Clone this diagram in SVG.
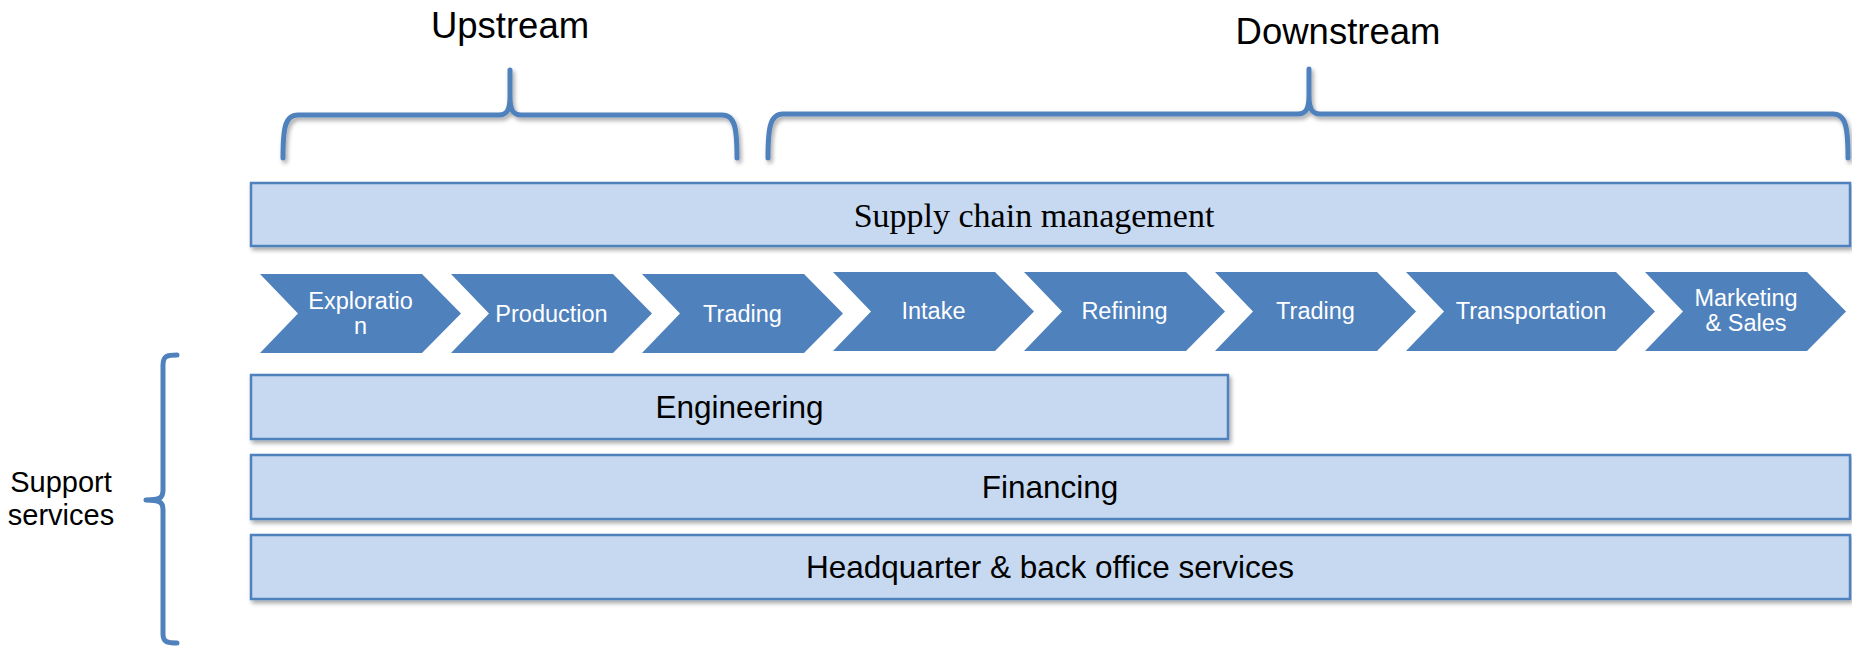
<svg xmlns="http://www.w3.org/2000/svg" width="1852" height="649" viewBox="0 0 1852 649">
<style>
.brace{fill:none;stroke:#4F81BD;stroke-width:5;stroke-linecap:round;stroke-linejoin:round}
.box{fill:#C6D9F1;stroke:#4F81BD;stroke-width:2.5}
.chev{fill:#4F81BD}
.ct{font-family:"Liberation Sans",Arial,sans-serif;font-size:23.5px;fill:#FFFFFF;text-anchor:middle}
.bt{font-family:"Liberation Sans",Arial,sans-serif;font-size:31.5px;fill:#000000;text-anchor:middle}
.hd{font-family:"Liberation Sans",Arial,sans-serif;font-size:36.5px;fill:#000000;text-anchor:middle}
.st{font-family:"Liberation Sans",Arial,sans-serif;font-size:29px;fill:#000000;text-anchor:middle}
.sc{font-family:"Liberation Serif","Times New Roman",serif;font-size:34px;fill:#000000;text-anchor:middle}
</style>
<defs>
<filter id="sh" x="-5%" y="-20%" width="110%" height="160%">
<feDropShadow dx="2" dy="3" stdDeviation="2" flood-color="#000000" flood-opacity="0.35"/>
</filter>
</defs>
<rect width="1852" height="649" fill="#FFFFFF"/>
<g id="connectors">
<path id="brace-upstream" class="brace" filter="url(#sh)" d="M283,158 C283,128 285,115 298,115 L499,115 C507,115 510,110 510,96 L510,70 M510,96 C510,110 513,115 521,115 L722,115 C735,115 737,128 737,158"/>
<path id="brace-downstream" class="brace" filter="url(#sh)" d="M768,158 C768,128 770,114 783,114 L1298,114 C1306,114 1309,109 1309,95 L1309,69 M1309,95 C1309,109 1312,114 1320,114 L1833,114 C1846,114 1848,128 1848,158"/>
<path id="brace-support" class="brace" d="M177,355 C167,355 163,356 163,365 L163,490 C163,498 160,500 146,500 M146,500 C160,500 163,502 163,510 L163,634 C163,642 167,643 177,643"/>
</g>
<g id="label-upstream"><text class="hd" x="510" y="38">Upstream</text></g>
<g id="label-downstream"><text class="hd" x="1338" y="44">Downstream</text></g>
<g id="label-support"><text class="st" x="61" y="492">Support</text><text class="st" x="61" y="525">services</text></g>
<g id="supply-chain"><rect class="box" filter="url(#sh)" x="251" y="183" width="1599" height="63"/><text class="sc" x="1034" y="227">Supply chain management</text></g>
<g id="chev-exploration"><polygon class="chev" points="260,274 422,274 461,313.5 422,353 260,353 298,313.5"/><text class="ct" x="360.5" y="309">Exploratio</text><text class="ct" x="360.5" y="334">n</text></g>
<g id="chev-production"><polygon class="chev" points="451,274 613,274 652,313.5 613,353 451,353 489,313.5"/><text class="ct" x="551.5" y="322">Production</text></g>
<g id="chev-trading1"><polygon class="chev" points="642,274 804,274 843,313.5 804,353 642,353 680,313.5"/><text class="ct" x="742.5" y="322">Trading</text></g>
<g id="chev-intake"><polygon class="chev" points="833,272 995,272 1034,311.5 995,351 833,351 871,311.5"/><text class="ct" x="933.5" y="319">Intake</text></g>
<g id="chev-refining"><polygon class="chev" points="1024,272 1186,272 1225,311.5 1186,351 1024,351 1062,311.5"/><text class="ct" x="1124.5" y="319">Refining</text></g>
<g id="chev-trading2"><polygon class="chev" points="1215,272 1377,272 1416,311.5 1377,351 1215,351 1253,311.5"/><text class="ct" x="1315.5" y="319">Trading</text></g>
<g id="chev-transportation"><polygon class="chev" points="1406,272 1616,272 1655,311.5 1616,351 1406,351 1444,311.5"/><text class="ct" x="1531" y="319">Transportation</text></g>
<g id="chev-marketing"><polygon class="chev" points="1645,272 1807,272 1846,311.5 1807,351 1645,351 1683,311.5"/><text class="ct" x="1746" y="306">Marketing</text><text class="ct" x="1746" y="331">&amp; Sales</text></g>
<g id="engineering"><rect class="box" filter="url(#sh)" x="251" y="375" width="977" height="64"/><text class="bt" x="739.5" y="418">Engineering</text></g>
<g id="financing"><rect class="box" filter="url(#sh)" x="251" y="455" width="1599" height="64"/><text class="bt" x="1050" y="498">Financing</text></g>
<g id="headquarter"><rect class="box" filter="url(#sh)" x="251" y="535" width="1599" height="64"/><text class="bt" x="1050" y="578">Headquarter &amp; back office services</text></g>
</svg>
